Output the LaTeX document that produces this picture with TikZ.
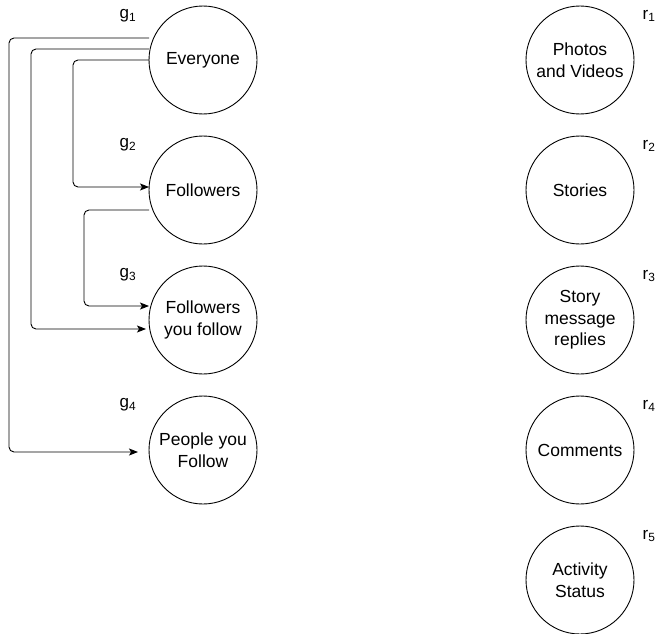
\documentclass[tikz,border=0pt]{standalone}
\usepackage{fontspec}
\setmainfont{Liberation Sans}
\usetikzlibrary{arrows.meta}
\begin{document}
\begin{tikzpicture}[x=1pt,y=-1pt,
  circ/.style={draw,circle,minimum size=108pt,inner sep=0pt,line width=0.9pt,align=center,font=\fontsize{17.5}{21.5}\selectfont},
  lbl/.style={font=\fontsize{17}{19}\selectfont,inner sep=0pt},
  conn/.style={line width=0.9pt,rounded corners=5pt,-{Stealth[length=9pt,width=7pt,inset=2pt]}}]
\useasboundingbox (0,0) rectangle (656,634);
% left column
\node[circ] (ev) at (203,60) {Everyone};
\node[circ] (fo) at (203,190) {Followers};
\node[circ] (fy) at (203,320) {Followers\\you follow};
\node[circ] (py) at (203,450) {People you\\Follow};
% right column
\node[circ] (r1n) at (580,60) {Photos\\and Videos};
\node[circ] (r2n) at (580,190) {Stories};
\node[circ] (r3n) at (580,320) {Story\\message\\replies};
\node[circ] (r4n) at (580,450) {Comments};
\node[circ] (r5n) at (580,580) {Activity\\Status};
% labels
\node[lbl] (g1) at (128,16) {g\textsubscript{1}};
\node[lbl] (g2) at (128,145) {g\textsubscript{2}};
\node[lbl] (g3) at (128,275) {g\textsubscript{3}};
\node[lbl] (g4) at (128,405) {g\textsubscript{4}};
\node[lbl] (l1) at (649,16) {r\textsubscript{1}};
\node[lbl] (l2) at (649,146) {r\textsubscript{2}};
\node[lbl] (l3) at (649,276) {r\textsubscript{3}};
\node[lbl] (l4) at (649,406) {r\textsubscript{4}};
\node[lbl] (l5) at (649,536) {r\textsubscript{5}};
% connector end points
\coordinate (a1s) at (149,38);  \coordinate (a1e) at (138,452);
\coordinate (a2s) at (149,49);  \coordinate (a2e) at (146,329);
\coordinate (a3s) at (149,60);  \coordinate (a3e) at (149,187);
\coordinate (a4s) at (149,210); \coordinate (a4e) at (149,306);
\draw[conn] (a1s) -- (9,38) -- (9,452) -- (a1e);
\draw[conn] (a2s) -- (31,49) -- (31,329) -- (a2e);
\draw[conn] (a3s) -- (73,60) -- (73,187) -- (a3e);
\draw[conn] (a4s) -- (84,210) -- (84,306) -- (a4e);
\end{tikzpicture}
\end{document}
